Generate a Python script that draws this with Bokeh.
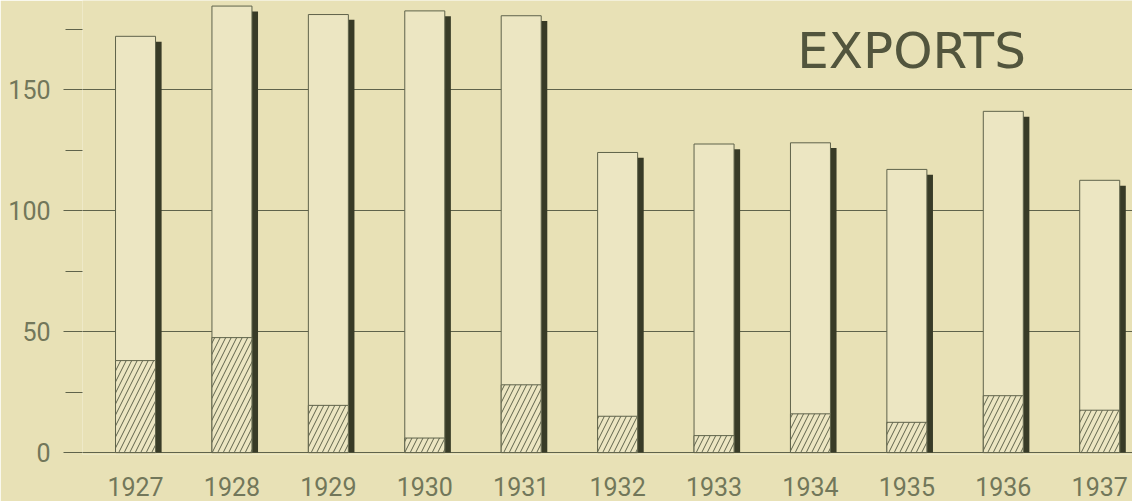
import numpy as np
from bokeh.plotting import figure
from bokeh.models import FixedTicker, Label, Range1d, ColumnDataSource
from bokeh.embed import file_html
from bokeh.resources import INLINE

# ---- data ----
years = [1927, 1928, 1929, 1930, 1931, 1932, 1933, 1934, 1935, 1936, 1937]
totals = [172, 184.5, 181, 182.5, 180.5, 124, 127.5, 128, 117, 141, 112.5]
hatched = [38, 47.5, 19.5, 6, 28, 15, 7, 16, 12.5, 23.5, 17.5]
y_major = [0, 50, 100, 150]
y_minor = [25, 75, 125, 175]
title_text = "EXPORTS"

# ---- style ----
BG = "#e8e1b6"
BAR_FILL = "#ece6c2"
LINE = "#5f634b"
SHADOW = "#383b27"
LABEL = "#72775a"
TITLE = "#52553d"
BAR_W = 0.415
SH_W = 0.068

src = ColumnDataSource(dict(
    x=years, top=totals, hatch=hatched,
    sx=list(np.array(years) + BAR_W / 2 + SH_W / 2 - 0.005),
    stop=list(np.array(totals) - 2.2),
))

p = figure(width=1132, height=501, output_backend="svg", toolbar_location=None,
           x_range=Range1d(1926.45, 1937.34), y_range=Range1d(-0.8, 186.8),
           min_border_left=82, min_border_right=0, min_border_top=0,
           min_border_bottom=47)
p.background_fill_color = BG
p.border_fill_color = BG
p.outline_line_color = None

# shadows
p.vbar(x="sx", top="stop", bottom=0, width=SH_W, source=src,
       fill_color=SHADOW, line_color=None)
# bars
p.vbar(x="x", top="top", bottom=0, width=BAR_W, source=src,
       fill_color=BAR_FILL, line_color=LINE, line_width=1)
# hatched part
p.vbar(x="x", top="hatch", bottom=0, width=BAR_W, source=src,
       fill_color=BAR_FILL, line_color=LINE, line_width=1,
       hatch_pattern="/", hatch_color=LINE, hatch_scale=11, hatch_weight=1)

# y axis
ya = p.yaxis[0]
ya.ticker = FixedTicker(ticks=y_major, minor_ticks=y_minor)
ya.axis_line_color = None
ya.major_tick_line_color = LINE
ya.major_tick_out = 19
ya.major_tick_in = 0
ya.minor_tick_line_color = LINE
ya.minor_tick_out = 17
ya.minor_tick_in = 0
ya.major_label_standoff = 13
ya.major_label_text_font = "Roboto"
ya.major_label_text_font_size = "25px"
ya.major_label_text_color = LABEL

# x axis
xa = p.xaxis[0]
xa.ticker = FixedTicker(ticks=years)
xa.axis_line_color = None
xa.major_tick_line_color = None
xa.minor_tick_line_color = None
xa.major_label_standoff = 16
xa.major_label_text_font = "Roboto"
xa.major_label_text_font_size = "25px"
xa.major_label_text_color = LABEL

p.xgrid.grid_line_color = None
p.ygrid.grid_line_color = LINE
p.ygrid.grid_line_width = 1

p.add_layout(Label(x=829, y=404, x_units="screen", y_units="screen",
                   text=title_text, text_align="center",
                   text_baseline="alphabetic",
                   text_font="DejaVu Sans", text_font_size="50px",
                   text_color=TITLE))

open("out.html", "w").write(file_html(p, INLINE))
